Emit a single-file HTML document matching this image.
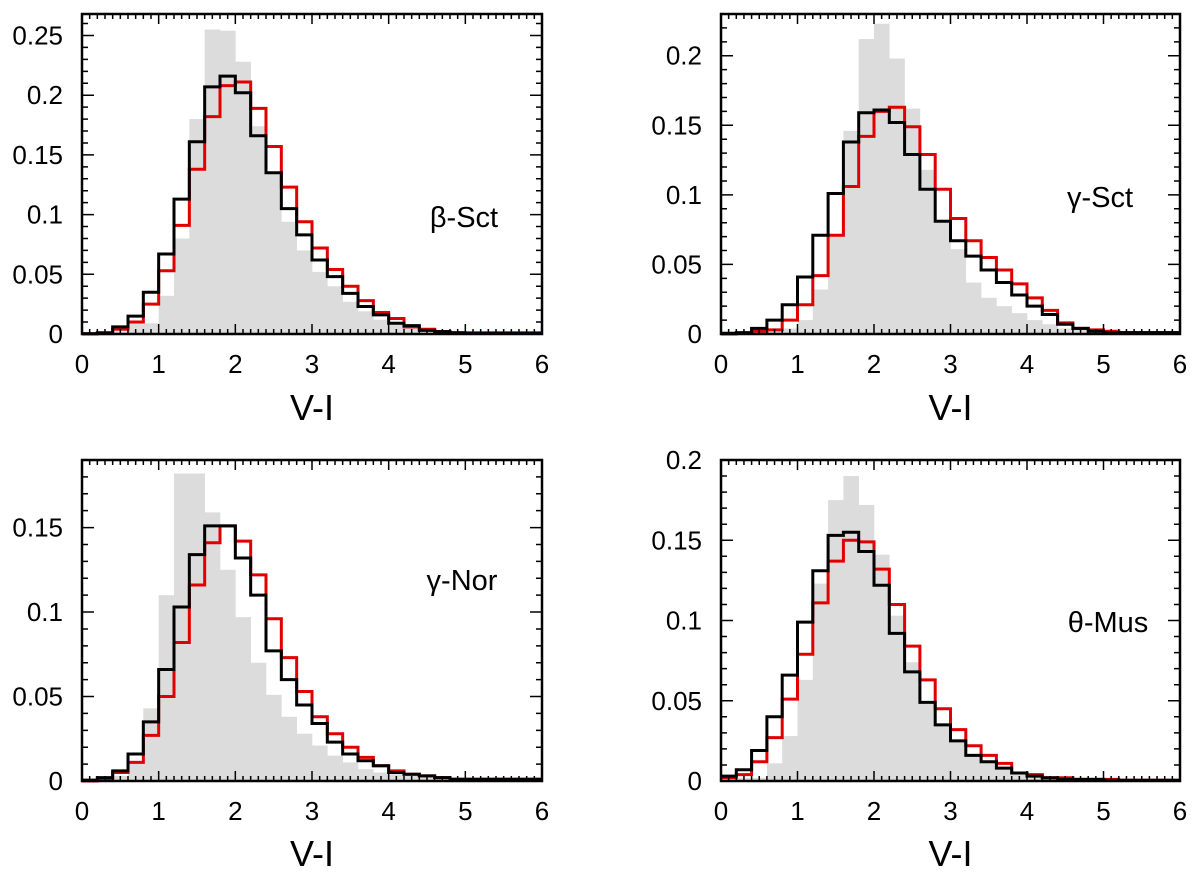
<!DOCTYPE html>
<html><head><meta charset="utf-8"><style>
html,body{margin:0;padding:0;background:#fff;}
svg{display:block;font-family:"Liberation Sans",sans-serif;}
</style></head><body>
<svg id="chart" width="1200" height="876"></svg>
<script>
const binEdgesStart = 0, binWidth = 0.2;
const grey1 = [0,0,0.002,0.009,0.009,0.032,0.08,0.18,0.255,0.254,0.228,0.174,0.135,0.094,0.07,0.052,0.04,0.027,0.019,0.012,0.008,0.005,0.004,0.002,0.001,0.0005,0.0005,0.0005,0.0005,0.0005];
const black1 = [0.0003,0.001,0.006,0.015,0.035,0.067,0.113,0.161,0.207,0.216,0.202,0.166,0.135,0.105,0.083,0.062,0.048,0.034,0.023,0.016,0.009,0.007,0.003,0.002,0.001,0.0005,0.0005,0.0005,0.0005,0.0005];
const red1 = [0,0.0003,0.004,0.01,0.025,0.053,0.091,0.138,0.182,0.208,0.211,0.189,0.157,0.123,0.094,0.072,0.054,0.04,0.028,0.018,0.013,0.006,0.004,0.002,0.001,0.001,0.001,0.001,0.001,0.001];
const grey2 = [0,0,0,0.003,0.004,0.01,0.032,0.07,0.146,0.212,0.223,0.198,0.162,0.118,0.082,0.061,0.037,0.026,0.02,0.015,0.01,0.007,0.004,0.003,0.002,0.001,0.001,0.001,0.001,0.001];
const black2 = [0.0005,0.001,0.004,0.01,0.021,0.041,0.071,0.101,0.138,0.159,0.161,0.152,0.129,0.104,0.081,0.067,0.056,0.046,0.037,0.028,0.02,0.014,0.007,0.004,0.002,0.001,0.001,0.001,0.001,0.001];
const red2 = [0,0.0005,0.002,0.003,0.01,0.021,0.042,0.071,0.106,0.142,0.16,0.163,0.149,0.129,0.104,0.083,0.067,0.055,0.046,0.036,0.026,0.017,0.008,0.004,0.003,0.002,0.001,0.001,0.001,0.001];
const grey3 = [0,0.0005,0.003,0.012,0.043,0.11,0.182,0.182,0.159,0.125,0.097,0.07,0.051,0.038,0.028,0.021,0.015,0.011,0.007,0.005,0.004,0.003,0.002,0.001,0.0005,0.0005,0.0005,0.0005,0.0005,0.0005];
const black3 = [0.0005,0.002,0.006,0.016,0.035,0.066,0.103,0.134,0.151,0.151,0.132,0.11,0.077,0.06,0.045,0.034,0.023,0.016,0.012,0.009,0.005,0.004,0.003,0.002,0.001,0.001,0.001,0.001,0.001,0.001];
const red3 = [0,0.001,0.005,0.011,0.027,0.05,0.082,0.116,0.141,0.151,0.142,0.122,0.096,0.073,0.053,0.038,0.028,0.02,0.014,0.009,0.006,0.004,0.003,0.002,0.001,0.001,0.001,0.001,0.001,0.001];
const grey4 = [0.001,0.002,0.002,0.011,0.028,0.063,0.123,0.175,0.19,0.172,0.141,0.103,0.074,0.048,0.036,0.026,0.017,0.012,0.008,0.005,0.003,0.002,0.002,0.001,0.001,0.0005,0.0005,0.0005,0.0005,0.0005];
const black4 = [0.003,0.007,0.019,0.04,0.066,0.099,0.131,0.153,0.155,0.143,0.122,0.092,0.068,0.049,0.035,0.025,0.016,0.012,0.008,0.005,0.003,0.002,0.001,0.001,0.001,0.0005,0.0005,0.0005,0.0005,0.0005];
const red4 = [0.002,0.004,0.012,0.027,0.051,0.079,0.111,0.137,0.15,0.149,0.132,0.11,0.084,0.063,0.045,0.032,0.022,0.016,0.011,0.005,0.004,0.002,0.002,0.001,0.001,0.001,0.0005,0.0005,0.0005,0.0005];
const xTicks = ["0","1","2","3","4","5","6"];
const yTicks1 = ["0","0.05","0.1","0.15","0.2","0.25"];
const yTicks2 = ["0","0.05","0.1","0.15","0.2"];
const yTicks3 = ["0","0.05","0.1","0.15"];
const yTicks4 = ["0","0.05","0.1","0.15","0.2"];
const labels = ["β-Sct","γ-Sct","γ-Nor","θ-Mus"];

const panels = [
 {x0:82,x1:542,y0:14,y1:334,ymax:0.268,g:grey1,b:black1,r:red1,yt:yTicks1,lab:labels[0],lx:464,ly:227,xl:420},
 {x0:721,x1:1180,y0:14,y1:334,ymax:0.23,g:grey2,b:black2,r:red2,yt:yTicks2,lab:labels[1],lx:1100,ly:207,xl:420},
 {x0:82,x1:542,y0:460,y1:781,ymax:0.19,g:grey3,b:black3,r:red3,yt:yTicks3,lab:labels[2],lx:462,ly:590,xl:866},
 {x0:721,x1:1180,y0:460,y1:781,ymax:0.2,g:grey4,b:black4,r:red4,yt:yTicks4,lab:labels[3],lx:1108,ly:632,xl:866}
];
const svg = document.getElementById('chart');
const NS = 'http://www.w3.org/2000/svg';
function mk(tag, attrs, parent){const e=document.createElementNS(NS,tag);for(const k in attrs)e.setAttribute(k,attrs[k]);parent.appendChild(e);return e;}
panels.forEach((p,pi)=>{
  const g = mk('g',{},svg);
  
  
  const sx = v => p.x0 + (v/6)*(p.x1-p.x0);
  const sy = v => p.y1 - (v/p.ymax)*(p.y1-p.y0);
  p.g.forEach((v,i)=>{
    const a = binEdgesStart+i*binWidth;
    const r = mk('rect',{x:sx(a),y:sy(v),width:sx(a+binWidth)-sx(a)+0.3,height:p.y1-sy(v),fill:'#dcdcdc'},g);
    
    
  });
  function step(arr,color,name){
    let d='M'+sx(0)+','+sy(arr[0]);
    arr.forEach((v,i)=>{
      const a=binEdgesStart+i*binWidth;
      d+=' L'+sx(a)+','+sy(v)+' L'+sx(a+binWidth)+','+sy(v);
    });
    const pa = mk('path',{d:d,fill:'none',stroke:color,'stroke-width':3,'stroke-linejoin':'miter'},g);
    
    
  }
  step(p.r,'#e00000','red-histogram');
  step(p.b,'#000','black-histogram');
  let t='';
  for(let k=0;k<=60;k++){
    const x=sx(k/10), L=(k%10===0)?10:5;
    t+=`M${x},${p.y1}v${-L}M${x},${p.y0}v${L}`;
  }
  const nMinor = Math.floor(p.ymax/0.01+1e-9);
  for(let k=0;k<=nMinor;k++){
    const y=sy(k*0.01), L=(k%5===0)?12:6;
    t+=`M${p.x0},${y}h${L}M${p.x1},${y}h${-L}`;
  }
  const tk=mk('path',{d:t,stroke:'#000','stroke-width':1.5,fill:'none'},g);
  
  
  const fr=mk('rect',{x:p.x0,y:p.y0,width:p.x1-p.x0,height:p.y1-p.y0,fill:'none',stroke:'#000','stroke-width':2.5},g);
  
  
  xTicks.forEach((s,i)=>{
    const tx=mk('text',{x:sx(i),y:p.y1+39,'font-size':26,'text-anchor':'middle',fill:'#000'},g);
    tx.textContent=s;
    
    
  });
  p.yt.forEach((s,i)=>{
    const ty=mk('text',{x:p.x0-19,y:sy(i*0.05)+9,'font-size':26,'text-anchor':'end',fill:'#000'},g);
    ty.textContent=s;
    
    
  });
  const xl=mk('text',{x:(p.x0+p.x1)/2,y:p.xl,'font-size':36,'text-anchor':'middle',fill:'#000'},g);
  xl.textContent='V-I';
  
  
  const lb=mk('text',{x:p.lx,y:p.ly,'font-size':29,'text-anchor':'middle',fill:'#000'},g);
  lb.textContent=p.lab;
  
  
});
</script>
</body></html>
